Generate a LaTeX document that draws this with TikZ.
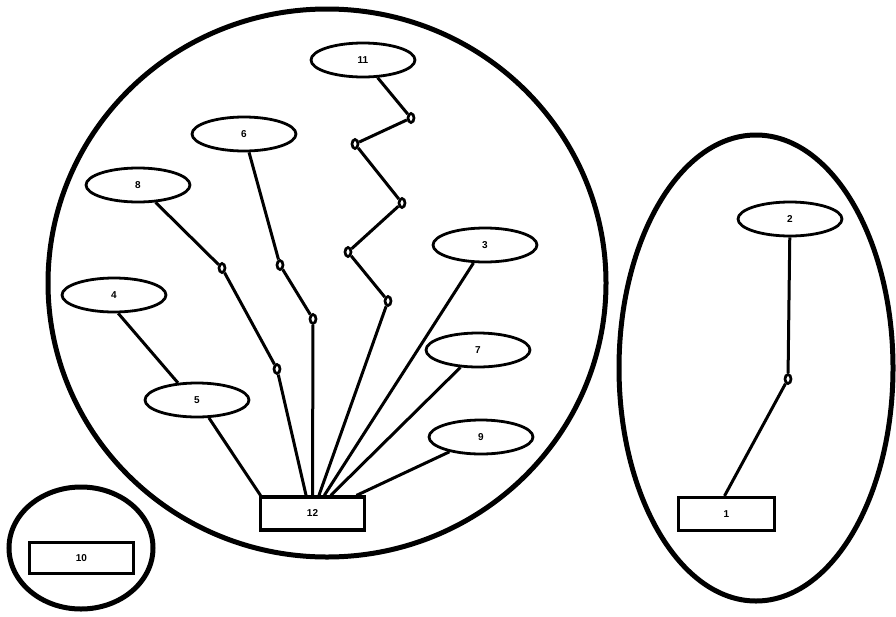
\documentclass[tikz,border=0pt]{standalone}
\usepackage{fontspec}
\setmainfont{Liberation Sans}
\usetikzlibrary{shapes.geometric,calc}
\begin{document}
\begin{tikzpicture}[x=1pt,y=-1pt,
  ent/.style={ellipse,draw,line width=2.8pt,minimum width=104pt,minimum height=34pt,inner sep=0pt,font=\bfseries\fontsize{10}{11}\selectfont},
  box/.style={rectangle,draw,line width=3.2pt,minimum width=104pt,minimum height=33pt,inner sep=0pt,font=\bfseries\fontsize{10}{11}\selectfont},
  junc/.style={ellipse,draw,line width=2.7pt,minimum width=6pt,minimum height=9pt,inner sep=0pt},
  grp/.style={draw,line width=5pt},
  link/.style={draw,line width=3pt}]
\useasboundingbox (0,0) rectangle (896,616);
% groups
\draw[grp] (327,283) ellipse [x radius=279, y radius=274];
\draw[grp] (756,368) ellipse [x radius=137, y radius=233];
\draw[grp] (81,548) ellipse [x radius=72, y radius=61];
% entity nodes
\node[ent] (n11) at (363,60) {11};
\node[ent] (n6) at (244,134) {6};
\node[ent] (n8) at (138,185) {8};
\node[ent] (n4) at (114,295) {4};
\node[ent] (n5) at (197,400) {5};
\node[ent] (n3) at (485,245) {3};
\node[ent] (n7) at (478,350) {7};
\node[ent] (n9) at (481,437) {9};
\node[ent] (n2) at (790,219) {2};
\node[box] (n12) at (312.5,513.5) {12};
\node[box,minimum width=96pt] (n1) at (726.5,514) {1};
\node[box,minimum height=31pt] (n10) at (81.5,558) {10};
% junctions
\node[junc] (a1) at (411,118) {};
\node[junc] (a2) at (355,144) {};
\node[junc] (a3) at (402,203) {};
\node[junc] (a4) at (348,252) {};
\node[junc] (a5) at (388,301) {};
\node[junc] (b1) at (280,265) {};
\node[junc] (b2) at (313,319) {};
\node[junc] (c1) at (222,268) {};
\node[junc] (c2) at (277,369) {};
\node[junc] (d1) at (788,379) {};
% entry points on box 12
\coordinate (e5) at ($(n12.north west)!0.015!(n12.north east)$);
\coordinate (e8) at ($(n12.north west)!0.44!(n12.north east)$);
\coordinate (e6) at ($(n12.north west)!0.5!(n12.north east)$);
\coordinate (e11) at ($(n12.north west)!0.56!(n12.north east)$);
\coordinate (e3) at ($(n12.north west)!0.61!(n12.north east)$);
\coordinate (e7) at ($(n12.north west)!0.67!(n12.north east)$);
\coordinate (e9) at ($(n12.north west)!0.91!(n12.north east)$);
\coordinate (e1) at ($(n1.north west)!0.48!(n1.north east)$);
% connectors
\draw[link] (n11) -- (a1) -- (a2) -- (a3) -- (a4) -- (a5) -- (e11);
\draw[link] (n6) -- (b1) -- (b2) -- (e6);
\draw[link] (n8) -- (c1) -- (c2) -- (e8);
\draw[link] (n4.-77) -- (n5.138);
\draw[link] (n5) -- (e5);
\draw[link] (n3) -- (e3);
\draw[link] (n7) -- (e7);
\draw[link] (n9) -- (e9);
\draw[link] (n2) -- (d1) -- (e1);
\end{tikzpicture}
\end{document}
